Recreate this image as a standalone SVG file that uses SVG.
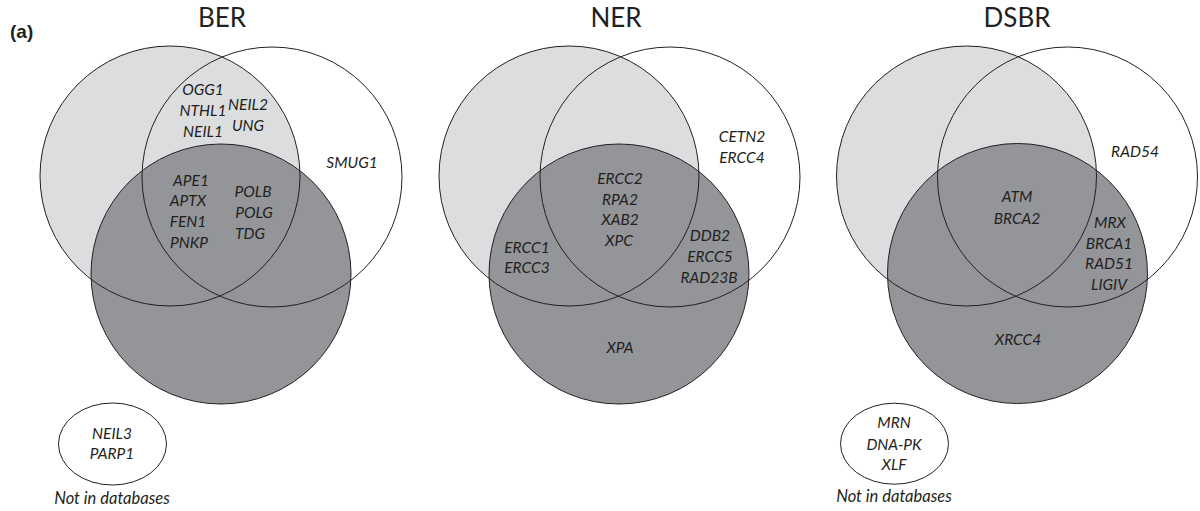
<svg xmlns="http://www.w3.org/2000/svg" width="1200" height="511" viewBox="0 0 1200 511">
<style>
.bg{fill:#ffffff}
.c{stroke:#231f20;stroke-width:1}
.lt{fill:#dcdddf}
.dk{fill:#939598}
.wh{fill:#ffffff}
.no{fill:none}
.t{font-family:Lato,"Open Sans","Liberation Sans",sans-serif;font-style:italic;font-size:15.5px;fill:#231f20;text-anchor:middle}
.n{font-family:Lato,"Open Sans","Liberation Sans",sans-serif;font-style:italic;font-size:16.5px;fill:#231f20;text-anchor:middle}
.h{font-family:Lato,"Open Sans","Liberation Sans",sans-serif;font-size:26px;fill:#231f20;text-anchor:middle}
.a{font-family:"Liberation Sans",Arial,sans-serif;font-weight:bold;font-size:19px;fill:#231f20}
</style>
<rect class="bg" x="0" y="0" width="1200" height="511"/>
<text class="a" x="10" y="38">(a)</text>

<g id="ber">
<text class="h" x="222" y="27">BER</text>
<circle class="wh" cx="272" cy="177" r="130"/>
<circle class="lt" cx="170" cy="176" r="130"/>
<circle class="dk" cx="221" cy="274" r="130"/>
<circle class="c no" cx="272" cy="177" r="130"/>
<circle class="c no" cx="170" cy="176" r="130"/>
<circle class="c no" cx="221" cy="274" r="130"/>
<text class="t" x="203" y="95">OGG1</text>
<text class="t" x="203" y="116">NTHL1</text>
<text class="t" x="203" y="137">NEIL1</text>
<text class="t" x="248" y="110">NEIL2</text>
<text class="t" x="248" y="131">UNG</text>
<text class="t" x="352" y="168">SMUG1</text>
<text class="t" x="191" y="186">APE1</text>
<text class="t" x="188" y="206">APTX</text>
<text class="t" x="188" y="227">FEN1</text>
<text class="t" x="189" y="248">PNKP</text>
<text class="t" x="253" y="197">POLB</text>
<text class="t" x="254" y="218">POLG</text>
<text class="t" x="250" y="239">TDG</text>
</g>

<g id="ber-extra">
<ellipse class="c wh" cx="112.5" cy="444" rx="54" ry="41"/>
<text class="t" x="112" y="439">NEIL3</text>
<text class="t" x="112" y="459">PARP1</text>
<text class="n" x="112" y="504">Not in databases</text>
</g>

<g id="ner">
<text class="h" x="616" y="27">NER</text>
<circle class="wh" cx="670" cy="177" r="130"/>
<circle class="lt" cx="569" cy="176" r="130"/>
<circle class="dk" cx="619" cy="274" r="130"/>
<circle class="c no" cx="670" cy="177" r="130"/>
<circle class="c no" cx="569" cy="176" r="130"/>
<circle class="c no" cx="619" cy="274" r="130"/>
<text class="t" x="742" y="142">CETN2</text>
<text class="t" x="742" y="163">ERCC4</text>
<text class="t" x="620" y="184">ERCC2</text>
<text class="t" x="620" y="205">RPA2</text>
<text class="t" x="620" y="225">XAB2</text>
<text class="t" x="619" y="246">XPC</text>
<text class="t" x="527" y="253">ERCC1</text>
<text class="t" x="527" y="273">ERCC3</text>
<text class="t" x="710" y="241">DDB2</text>
<text class="t" x="710" y="262">ERCC5</text>
<text class="t" x="709" y="283">RAD23B</text>
<text class="t" x="620" y="353">XPA</text>
</g>

<g id="dsbr">
<text class="h" x="1017" y="27">DSBR</text>
<circle class="wh" cx="1067.5" cy="177" r="130"/>
<circle class="lt" cx="966.5" cy="176" r="130"/>
<circle class="dk" cx="1017.5" cy="273.5" r="130"/>
<circle class="c no" cx="1067.5" cy="177" r="130"/>
<circle class="c no" cx="966.5" cy="176" r="130"/>
<circle class="c no" cx="1017.5" cy="273.5" r="130"/>
<text class="t" x="1135" y="157">RAD54</text>
<text class="t" x="1017" y="202">ATM</text>
<text class="t" x="1017" y="224">BRCA2</text>
<text class="t" x="1110" y="228">MRX</text>
<text class="t" x="1109" y="249">BRCA1</text>
<text class="t" x="1109" y="269">RAD51</text>
<text class="t" x="1109" y="290">LIGIV</text>
<text class="t" x="1018" y="345">XRCC4</text>
</g>

<g id="dsbr-extra">
<ellipse class="c wh" cx="894.5" cy="443.7" rx="54" ry="40.5"/>
<text class="t" x="894" y="428">MRN</text>
<text class="t" x="894" y="450">DNA-PK</text>
<text class="t" x="894" y="470">XLF</text>
<text class="n" x="894" y="502">Not in databases</text>
</g>
</svg>
